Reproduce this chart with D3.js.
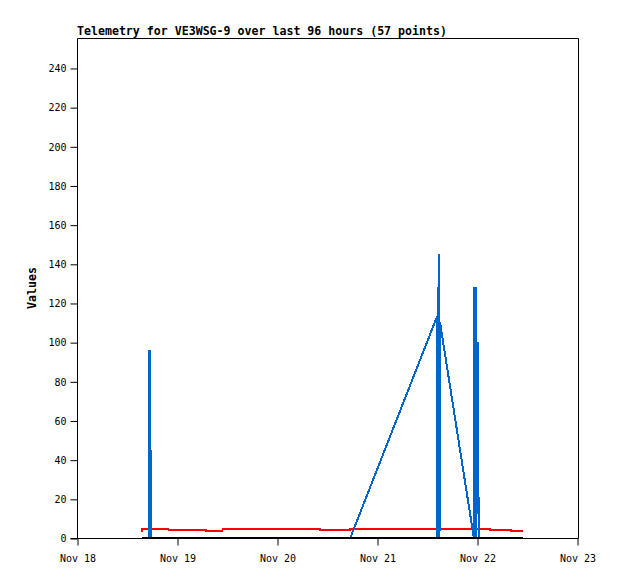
<!DOCTYPE html>
<html lang="en">
<head>
    <meta charset="UTF-8">
    <title>Telemetry</title>
    <style>
        body { margin: 0; background: #fff; }
        svg { display: block; }
        .tick text { font-family: "DejaVu Sans Mono", monospace; font-size: 10px; fill: #000; }
    </style>
</head>
<body>
<svg></svg>
<script src="https://d3js.org/d3.v7.min.js"></script>
<script>
    // telemetry samples (local time) and the three channels
    var times = [
        "2023-11-18T15:36", "2023-11-18T15:42", "2023-11-18T17:18", "2023-11-18T17:24", "2023-11-18T17:30",
        "2023-11-18T17:42", "2023-11-18T17:46", "2023-11-18T17:50", "2023-11-18T20:00", "2023-11-18T21:54",
        "2023-11-18T21:58", "2023-11-18T23:30", "2023-11-19T02:00", "2023-11-19T04:30", "2023-11-19T06:54",
        "2023-11-19T06:58", "2023-11-19T10:54", "2023-11-19T10:58", "2023-11-19T14:00", "2023-11-19T16:20",
        "2023-11-19T18:40", "2023-11-19T18:44", "2023-11-19T23:00", "2023-11-20T02:00", "2023-11-20T04:00",
        "2023-11-20T08:00", "2023-11-20T10:18", "2023-11-20T10:22", "2023-11-20T12:00", "2023-11-20T14:00",
        "2023-11-20T17:31", "2023-11-20T17:35", "2023-11-21T14:24", "2023-11-21T14:28", "2023-11-21T14:32",
        "2023-11-21T14:36", "2023-11-21T14:40", "2023-11-21T14:44", "2023-11-21T14:52", "2023-11-21T14:56",
        "2023-11-21T15:00", "2023-11-21T15:08", "2023-11-21T23:15", "2023-11-21T23:20", "2023-11-21T23:30",
        "2023-11-21T23:40", "2023-11-21T23:50", "2023-11-22T00:15", "2023-11-22T00:20", "2023-11-22T00:25",
        "2023-11-22T01:30", "2023-11-22T03:05", "2023-11-22T03:09", "2023-11-22T05:00", "2023-11-22T08:10",
        "2023-11-22T08:14", "2023-11-22T11:00"
    ];
    var ch1 = times.map(function () { return 0; });
    var ch2 = [
        3.0, 4.7, 4.7, 4.7, 4.7, 4.7, 4.7, 4.7, 4.7, 4.7,
        4.3, 4.3, 4.3, 4.3, 4.3, 3.8, 3.8, 4.7, 4.7, 4.7,
        4.7, 4.4, 4.4, 4.4, 4.4, 4.4, 4.4, 4.0, 4.0, 4.0,
        4.0, 4.7, 4.7, 4.7, 4.7, 4.7, 4.7, 4.7, 4.7, 4.7,
        4.7, 4.7, 4.7, 4.7, 4.7, 4.7, 4.7, 4.7, 4.7, 4.7,
        4.7, 4.7, 4.2, 4.2, 4.2, 3.7, 3.7
    ];
    var ch3 = [
        0, 0, 0, 96, 0, 0, 45, 0, 0, 0,
        0, 0, 0, 0, 0, 0, 0, 0, 0, 0,
        0, 0, 0, 0, 0, 0, 0, 0, 0, 0,
        0, 0, 113, 0, 128, 0, 128, 0, 145, 104,
        0, 110, 0, 128, 52, 128, 0, 100, 32, 0,
        0, 0, 0, 0, 0, 0, 0
    ];
    var xTicks = ["2023-11-18T00:00", "2023-11-19T00:00", "2023-11-20T00:00",
                  "2023-11-21T00:00", "2023-11-22T00:00", "2023-11-23T00:00"];
    var yTicks = [0, 20, 40, 60, 80, 100, 120, 140, 160, 180, 200, 220, 240];

    var width = 618, height = 579;
    var plotLeft = 77, plotRight = 577, plotTop = 38, plotBottom = 538;
    var parse = d3.timeParse("%Y-%m-%dT%H:%M");

    var x = d3.scaleTime()
        .domain([parse(xTicks[0]), parse(xTicks[xTicks.length - 1])])
        .range([plotLeft, plotRight]);
    var y = d3.scaleLinear().domain([0, 255.3]).range([plotBottom, plotTop]);

    var svg = d3.select("svg").attr("width", width).attr("height", height);

    // frame
    svg.append("path")
        .attr("d", "M" + (plotLeft + 0.5) + "," + (plotTop + 0.5) + "H" + (plotRight + 1.5) + "V" + (plotBottom + 0.5))
        .attr("fill", "none").attr("stroke", "#000");

    var yAxis = d3.axisLeft(y).tickValues(yTicks).tickSize(7).tickPadding(4);
    svg.append("g")
        .attr("transform", "translate(" + (plotLeft + 0.5) + ",0.5)")
        .call(yAxis)
        .call(function (g) { g.select(".domain").attr("d", "M0," + plotTop + "V" + plotBottom); });

    var xAxis = d3.axisBottom(x).tickValues(xTicks.map(parse))
        .tickFormat(d3.timeFormat("%b %d")).tickSize(7).tickPadding(9);
    svg.append("g")
        .attr("transform", "translate(0.5," + (plotBottom + 0.5) + ")")
        .call(xAxis)
        .call(function (g) { g.select(".domain").attr("d", "M" + (plotLeft - 7) + ",0H" + (plotRight + 1)); });

    var rows = times.map(function (t, i) {
        return { t: parse(t), a: ch1[i], b: ch2[i], c: ch3[i] };
    });

    function line(key) {
        return d3.line().x(function (d) { return x(d.t); }).y(function (d) { return y(d[key]); });
    }

    var series = [
        { key: "b", color: "#ff0000" },
        { key: "c", color: "#0066cc" },
        { key: "a", color: "#000000" }
    ];
    svg.selectAll("path.series")
        .data(series)
        .enter().append("path")
        .attr("class", "series")
        .attr("d", function (s) { return line(s.key)(rows); })
        .attr("fill", "none")
        .attr("stroke", function (s) { return s.color; })
        .attr("stroke-width", 2)
        .attr("shape-rendering", "crispEdges");

    svg.append("text")
        .attr("x", plotLeft).attr("y", 35)
        .style("font-family", "'DejaVu Sans Mono', monospace")
        .style("font-size", "11.6px").style("font-weight", "bold")
        .text("Telemetry for VE3WSG-9 over last 96 hours (57 points)");

    svg.append("text")
        .attr("transform", "translate(36," + ((plotTop + plotBottom) / 2) + ") rotate(-90)")
        .attr("text-anchor", "middle")
        .style("font-family", "'DejaVu Sans Mono', monospace")
        .style("font-size", "11.6px").style("font-weight", "bold")
        .text("Values");
</script>
</body>
</html>
